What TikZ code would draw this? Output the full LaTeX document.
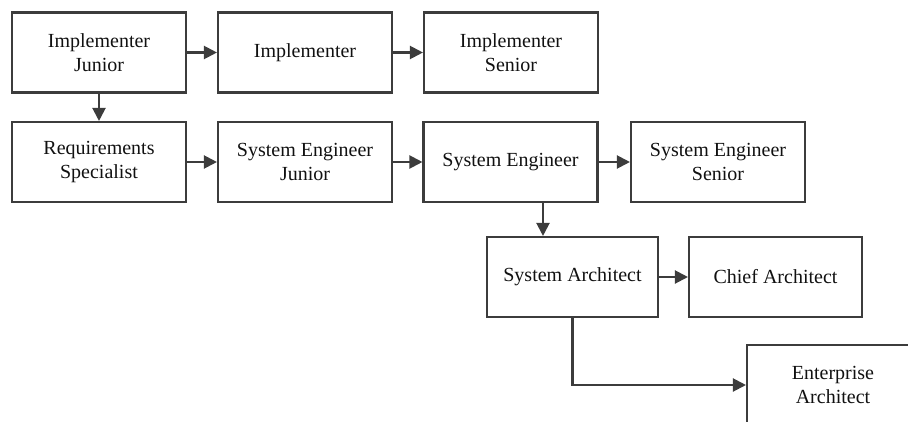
\documentclass[tikz,border=0pt]{standalone}
\usepackage{fontspec}
\setmainfont{Liberation Serif}
\usetikzlibrary{arrows.meta}
\definecolor{edge}{HTML}{3C3C3C}
\definecolor{ink}{HTML}{111111}
\tikzset{
  role/.style={draw=edge, line width=2.1pt, fill=white, minimum width=174pt,
    minimum height=80pt, inner sep=0pt, align=center, text=ink,
    font=\fontsize{20}{24.5}\selectfont},
  flow/.style={draw=edge, line width=2.1pt,
    -{Triangle[length=13pt,width=13pt]}}
}
\begin{document}
\begin{tikzpicture}[x=1pt,y=-1pt]
  \useasboundingbox (0,0) rectangle (908,421);
  \clip (0,0) rectangle (908,421);
  % implementer track
  \node[role] (ij)  at (99,52.5)  {Implementer\\Junior};
  \node[role] (im)  at (305,52.5) {Implementer};
  \node[role] (is)  at (511,52.5) {Implementer\\Senior};
  % engineering track
  \node[role] (rs)  at (99,162)    {Requirements\\Specialist};
  \node[role] (sej) at (305,162)   {System Engineer\\Junior};
  \node[role] (se)  at (510.5,162) {System Engineer};
  \node[role] (ses) at (718,162)   {System Engineer\\Senior};
  % architecture track
  \node[role, minimum width=171pt] (sa) at (572.5,277) {System Architect};
  \node[role, minimum width=173pt] (ca) at (775.5,277) {Chief Architect};
  \node[role, minimum width=172pt] (ea) at (833,385)   {Enterprise\\Architect};
  % progression arrows
  \draw[flow] (ij) -- (im);
  \draw[flow] (im) -- (is);
  \draw[flow] (ij) -- (rs);
  \draw[flow] (rs) -- (sej);
  \draw[flow] (sej) -- (se);
  \draw[flow] (se) -- (ses);
  \coordinate (sedrop) at ([xshift=32.5pt]se.south);
  \draw[flow] (sedrop) -- (sedrop |- sa.north);
  \draw[flow] (sa) -- (ca);
  \draw[flow] (sa.south) |- (ea.west);
\end{tikzpicture}
\end{document}
